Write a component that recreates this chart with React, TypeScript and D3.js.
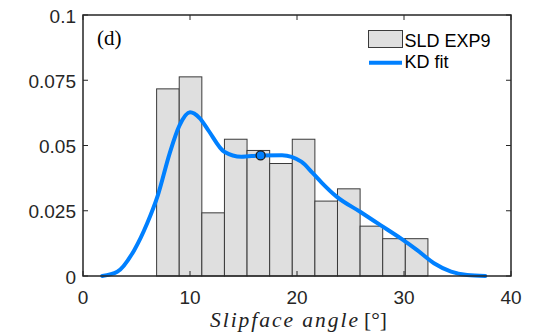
import React from "react";
import * as d3 from "d3";

const binStart = 6.88;
const binWidth = 2.113;
const binValues = [0.0717, 0.0763, 0.0242, 0.0524, 0.0481, 0.0431, 0.0524, 0.0287, 0.0334, 0.0191, 0.0143, 0.0143];

const kdX = [1.8, 3.2, 4.8, 6.0, 7.0, 8.1, 9.0, 10.0, 10.9, 11.7, 13.2, 14.8, 16.6, 18.6, 20.4, 21.5, 22.3, 23.7, 25.9, 27.8, 29.7, 31.2, 32.8, 34.4, 35.9, 37.6];
const kdY = [0.0, 0.0016, 0.010, 0.0202, 0.031, 0.047, 0.0575, 0.0627, 0.0605, 0.0559, 0.0476, 0.0457, 0.0462, 0.0463, 0.0438, 0.0393, 0.0358, 0.0304, 0.0246, 0.0195, 0.0144, 0.0100, 0.0049, 0.0017, 0.0004, 0.0];

const markX = 16.6;
const markY = 0.0462;

const xTicks = [0, 10, 20, 30, 40];
const yTicks = [0, 0.025, 0.05, 0.075, 0.1];
const yTickLabels = ["0", "0.025", "0.05", "0.075", "0.1"];

export default function App() {
  const W = 535, H = 336;
  const L = 83, R = 511, T = 15, B = 276;
  const x = d3.scaleLinear().domain([0, 40]).range([L, R]);
  const y = d3.scaleLinear().domain([0, 0.1]).range([B, T]);
  const line = d3.line<number>().x((_, i) => x(kdX[i])).y((_, i) => y(kdY[i])).curve(d3.curveMonotoneX);
  const axisCol = "#262626";
  const tl = 5;
  const font = "'Liberation Sans', Arial, sans-serif";
  const serif = "'Liberation Serif', 'Times New Roman', serif";
  return (
    <svg width={W} height={H} style={{ position: "absolute", left: 0, top: 0, background: "#fff" }}>
      <rect x={0} y={0} width={W} height={H} fill="#fff" />
      {binValues.map((v, i) => (
        <rect key={i} x={x(binStart + i * binWidth)} y={y(v)} width={x(binStart + (i + 1) * binWidth) - x(binStart + i * binWidth)} height={y(0) - y(v)} fill="#dfdfdf" stroke="#3a3a3a" strokeWidth={1} />
      ))}
      <path d={line(kdX) || ""} fill="none" stroke="#0080ff" strokeWidth={4} strokeLinejoin="round" strokeLinecap="round" />
      <circle cx={x(markX)} cy={y(markY)} r={4.5} fill="#0080ff" stroke="#1a1a1a" strokeWidth={1.3} />
      <rect x={L} y={T} width={R - L} height={B - T} fill="none" stroke={axisCol} strokeWidth={1.5} />
      {xTicks.map((t) => (
        <g key={t}>
          <line x1={x(t)} x2={x(t)} y1={B} y2={B - tl} stroke={axisCol} strokeWidth={1} />
          <line x1={x(t)} x2={x(t)} y1={T} y2={T + tl} stroke={axisCol} strokeWidth={1} />
          <text x={x(t)} y={304} textAnchor="middle" fontSize={19} fontFamily={font} fill={axisCol}>{t}</text>
        </g>
      ))}
      {yTicks.map((t, i) => (
        <g key={t}>
          <line x1={L} x2={L + tl} y1={y(t)} y2={y(t)} stroke={axisCol} strokeWidth={1} />
          <line x1={R} x2={R - tl} y1={y(t)} y2={y(t)} stroke={axisCol} strokeWidth={1} />
          <text x={76} y={y(t) + 7.5} textAnchor="end" fontSize={19} fontFamily={font} fill={axisCol}>{yTickLabels[i]}</text>
        </g>
      ))}
      <text x={97} y={45} fontSize={21} fontFamily={serif} fill="#000">(d)</text>
      <rect x={368.5} y={30.5} width={34} height={17} fill="#dfdfdf" stroke="#3a3a3a" strokeWidth={1} />
      <text x={404.5} y={46.5} fontSize={18} fontFamily={font} fill="#000">SLD EXP9</text>
      <line x1={369} x2={402} y1={62.7} y2={62.7} stroke="#0080ff" strokeWidth={4} />
      <text x={404.5} y={67.7} fontSize={18} fontFamily={font} fill="#000">KD fit</text>
      <text x={210} y={326.5} fontSize={21.5} fontFamily={serif} fontStyle="italic" fill="#222" textLength={148} lengthAdjust="spacing">Slipface angle</text>
      <text x={364} y={326.5} fontSize={21.5} fontFamily={serif} fill="#222">[°]</text>
    </svg>
  );
}
